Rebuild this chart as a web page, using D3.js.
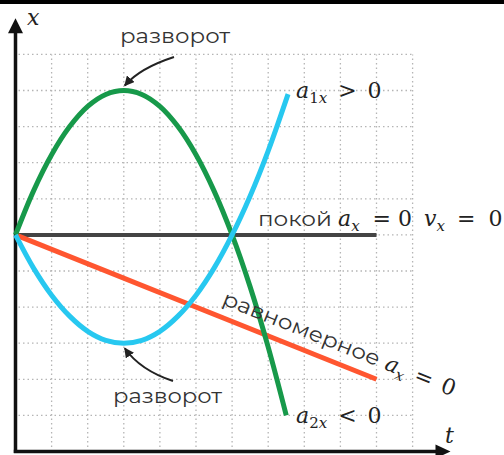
<!DOCTYPE html>
<html>
<head>
<meta charset="utf-8">
<script src="https://cdn.jsdelivr.net/npm/d3@7"></script>
<style>
body { margin: 0; background: #fff; }
svg { display: block; }
</style>
</head>
<body>
<div id="chart"></div>
<script>
var width = 504
var height = 455

// grid positions (one cell = one unit)
var gridT = [1, 2, 3, 4, 5, 6, 7, 8, 9, 10, 11]
var gridX = [-5, -4, -3, -2, -1, 0, 1, 2, 3, 4, 5]

// green curve, a2x < 0
var greenT = [0, 0.5, 1, 1.5, 2, 2.5, 3, 3.5, 4, 4.5, 5, 5.5, 6, 6.5, 7, 7.5]
var greenX = [0, 1.22, 2.22, 3.0, 3.56, 3.89, 4, 3.89, 3.56, 3.0, 2.22, 1.22, 0, -1.44, -3.11, -5]

// cyan curve, a1x > 0
var cyanT = [0, 0.5, 1, 1.5, 2, 2.5, 3, 3.5, 4, 4.5, 5, 5.5, 6, 6.5, 7, 7.55]
var cyanX = [0, -0.92, -1.67, -2.25, -2.67, -2.92, -3, -2.92, -2.67, -2.25, -1.67, -0.92, 0, 1.08, 2.33, 3.9]

// uniform motion and rest
var redT = [0, 10]
var redX = [0, -4]
var restT = [0, 10]
var restX = [0, 0]

var svg = d3.select("#chart")
    .append("svg")
    .attr("width", width)
    .attr("height", height)

var x = d3.scaleLinear().domain([0, 11]).range([15.5, 412.6])
var y = d3.scaleLinear().domain([-6, 5]).range([451.5, 54.4])

// black band at the top
svg.append("rect")
    .attr("x", 0).attr("y", 0)
    .attr("width", width).attr("height", 4)
    .attr("fill", "#000")

// dotted grid
svg.selectAll(".vgrid")
    .data(gridT)
    .enter()
    .append("line")
    .attr("x1", d => x(d)).attr("x2", d => x(d))
    .attr("y1", y(-6)).attr("y2", y(5))
    .attr("stroke", "#b5b5b5")
    .attr("stroke-width", 1.3)
    .attr("stroke-dasharray", "1.5,3")

svg.selectAll(".hgrid")
    .data(gridX)
    .enter()
    .append("line")
    .attr("x1", x(0) + 3).attr("x2", x(11))
    .attr("y1", d => y(d)).attr("y2", d => y(d))
    .attr("stroke", "#b5b5b5")
    .attr("stroke-width", 1.3)
    .attr("stroke-dasharray", "1.5,3")

// axes with arrows
var tEnd = x(12.05)
var xTop = y(6.0)
svg.append("line")
    .attr("x1", x(0)).attr("x2", x(0))
    .attr("y1", y(-6) + 1.5).attr("y2", xTop + 10)
    .attr("stroke", "#111").attr("stroke-width", 3.5)
svg.append("path")
    .attr("d", "M" + x(0) + "," + xTop + "L" + (x(0) - 7.5) + "," + (xTop + 15) + "L" + (x(0) + 7.5) + "," + (xTop + 15) + "Z")
    .attr("fill", "#111")
svg.append("line")
    .attr("x1", x(0) - 1.7).attr("x2", tEnd - 10)
    .attr("y1", y(-6)).attr("y2", y(-6))
    .attr("stroke", "#111").attr("stroke-width", 3.5)
svg.append("path")
    .attr("d", "M" + tEnd + "," + y(-6) + "L" + (tEnd - 15) + "," + (y(-6) - 7) + "L" + (tEnd - 15) + "," + (y(-6) + 7) + "Z")
    .attr("fill", "#111")

// curves
var line = d3.line()
    .x(d => x(d[0]))
    .y(d => y(d[1]))
    .curve(d3.curveCatmullRom)

function draw(ts, xs, color, w) {
    svg.append("path")
        .datum(d3.zip(ts, xs))
        .attr("d", line)
        .attr("fill", "none")
        .attr("stroke", color)
        .attr("stroke-width", w)
}

draw(restT, restX, "#444", 4)
draw(redT, redX, "#ff5630", 5)
draw(greenT, greenX, "#17994a", 5)
draw(cyanT, cyanX, "#27c8f0", 5)

// text helpers
var sans = "Montserrat, Noto Sans, sans-serif"
var serif = "DejaVu Serif, Liberation Serif, serif"

// parts: [text, flags (i = italic, s = subscript), gap before]
function math(parent, px, py, parts) {
    var t = parent.append("text")
        .attr("x", px).attr("y", py)
        .attr("font-family", serif)
        .attr("font-size", 22)
        .attr("fill", "#222")
    var down = false
    parts.forEach(function (p) {
        var s = t.append("tspan").text(p[0])
        if (p[2]) s.attr("dx", p[2])
        if (p[1].indexOf("i") >= 0) s.attr("font-style", "italic")
        if (p[1].indexOf("s") >= 0) {
            s.attr("font-size", 15)
            if (!down) { s.attr("dy", 5); down = true }
        } else if (down) {
            s.attr("dy", -5); down = false
        }
    })
    return t
}

function word(parent, px, py, txt, len) {
    return parent.append("text")
        .attr("x", px).attr("y", py)
        .attr("font-family", sans)
        .attr("font-size", 21)
        .attr("fill", "#333")
        .attr("textLength", len)
        .attr("lengthAdjust", "spacingAndGlyphs")
        .text(txt)
}

// axis names
math(svg, 27, 25, [["x", "i"]])
math(svg, 445, 443, [["t", "i"]])

// turning point labels with arrows
word(svg, 120, 43, "разворот", 110)
word(svg, 113, 403, "разворот", 109)

svg.append("defs").append("marker")
    .attr("id", "head")
    .attr("viewBox", "0 0 10 10")
    .attr("refX", 9).attr("refY", 5)
    .attr("markerWidth", 5).attr("markerHeight", 5)
    .attr("orient", "auto")
    .append("path")
    .attr("d", "M0,0L10,5L0,10Z")
    .attr("fill", "#222")

var apex = [x(3), y(4)]
var dip = [x(3), y(-3)]
svg.append("path")
    .attr("d", "M174,57Q140,68 " + (apex[0] + 1) + "," + (apex[1] - 5))
    .attr("fill", "none").attr("stroke", "#222").attr("stroke-width", 2)
    .attr("marker-end", "url(#head)")
svg.append("path")
    .attr("d", "M173,381Q140,370 " + (dip[0] + 1) + "," + (dip[1] + 5))
    .attr("fill", "none").attr("stroke", "#222").attr("stroke-width", 2)
    .attr("marker-end", "url(#head)")

// curve labels
math(svg, 296, 98, [["a", "i"], ["1", "s"], ["x", "is"], [">", "", 11], ["0", "", 11]])
math(svg, 296, 423, [["a", "i"], ["2", "s"], ["x", "is"], ["<", "", 11], ["0", "", 11]])

word(svg, 258, 226, "покой", 74)
math(svg, 338, 226, [["a", "i"], ["x", "is"], ["=", "", 13], ["0", "", 7], ["v", "i", 12],
    ["x", "is"], ["=", "", 12], ["0", "", 13]])

var ang = Math.atan2(y(redX[0]) - y(redX[1]), x(redT[1]) - x(redT[0])) * -180 / Math.PI
var rg = svg.append("g")
    .attr("transform", "translate(221,304) rotate(" + ang + ")")
word(rg, 0, 0, "равномерное", 168)
math(rg, 175, 0, [["a", "i"], ["x", "is"], ["=", "", 10], ["0", "", 10]])
</script>
</body>
</html>
